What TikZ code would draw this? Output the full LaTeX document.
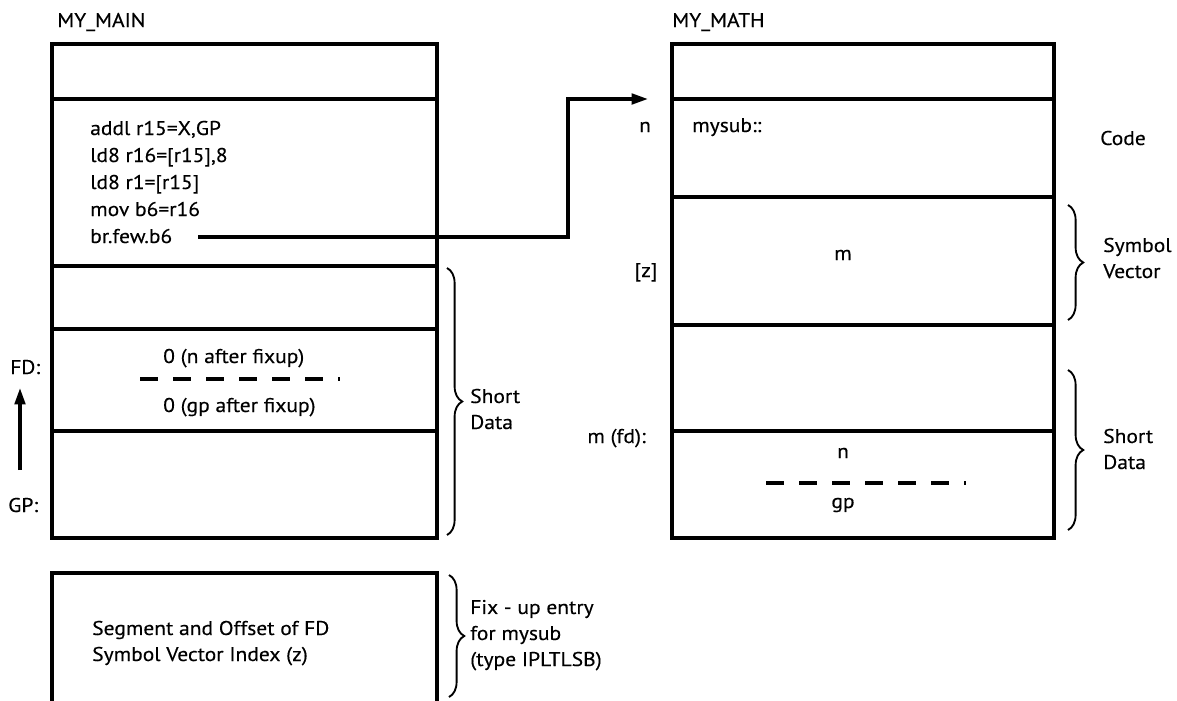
\documentclass[tikz,border=0pt]{standalone}
\usepackage{fontspec}
\setmainfont{PT Sans}[FakeStretch=1.08,FakeBold=0.3]
\usetikzlibrary{decorations.pathreplacing,arrows.meta}
\begin{document}
\begin{tikzpicture}[x=0.03cm,y=-0.03cm,
  box/.style={line width=2.8pt},
  txt/.style={font=\fontsize{17}{22.2}\selectfont, inner sep=0pt, text=black},
  lw/.style={txt, anchor=base west},
  lc/.style={txt, anchor=base},
  le/.style={txt, anchor=base east},
  ml/.style={txt, anchor=base west, align=left},
  brc/.style={decorate, decoration={brace,amplitude=13pt,aspect=0.5}, line width=1.6pt},
  dsh/.style={line width=2.8pt, dash pattern=on 15.3pt off 12.9pt},
  seg/.style={line width=2.8pt, line cap=rect},
  arr/.style={line width=2.8pt, -{Triangle[length=14pt,width=9pt]}},
  ]
\useasboundingbox (0,0) rectangle (1177,700);
\clip (0,0) rectangle (1177,700);

% MY_MAIN box
\draw[box] (52,44) rectangle (437,538);
\draw[box] (52,99) -- (437,99);
\draw[box] (52,266) -- (437,266);
\draw[box] (52,329) -- (437,329);
\draw[box] (52,431) -- (437,431);

% MY_MATH box
\draw[box] (672,44) rectangle (1054,538);
\draw[box] (672,99) -- (1054,99);
\draw[box] (672,197) -- (1054,197);
\draw[box] (672,325) -- (1054,325);
\draw[box] (672,431) -- (1054,431);

% fix-up box
\draw[box] (52,573) rectangle (437,720);

% titles
\node[lw] (tmain) at (57,27) {MY\_MAIN};
\node[lw] (tmath) at (672,27) {MY\_MATH};

% code lines
\node[lw] (c1) at (90,135) {addl r15=X,GP};
\node[lw] (c2) at (90,162) {ld8 r16=[r15],8};
\node[lw] (c3) at (90,189) {ld8 r1=[r15]};
\node[lw] (c4) at (90,216) {mov b6=r16};
\node[lw] (br) at (90,243) {br.few.b6};

% branch connector
\coordinate (bstart) at (198,237);
\coordinate (bcorner) at (568,237);
\coordinate (bend) at (568,99);
\coordinate (tgt) at (648,99);
\draw[line width=2.8pt] (bstart) -- (bcorner);
\draw[seg] (bcorner) -- (bend);
\draw[arr] (bend) -- (tgt);

% left short data
\node[lw] (nfix) at (163,363) {0 (n after fixup)};
\node[lw] (gpfix) at (163,412) {0 (gp after fixup)};
\coordinate (d1a) at (140,379);
\coordinate (d1b) at (340,379);
\draw[dsh] (d1a) -- (d1b);

\node[lw] (fd) at (10,374) {FD:};
\node[lw] (gp) at (8,512) {GP:};
\coordinate (fdtip) at (20,388);
\coordinate (gpbase) at (20,470);
\draw[arr] (gpbase) -- (fdtip);

\draw[brc] (447,268) -- (447,535);
\node[ml] (sd1) at (470,429) {Short\\Data};

% fix-up
\node[ml] (segoff) at (92,661) {Segment and Offset of FD\\Symbol Vector Index (z)};
\draw[brc] (449,575) -- (449,697);
\node[ml] (fix) at (470,666) {Fix - up entry\\for mysub\\(type IPLTLSB)};

% right side
\node[lc] (n1) at (645,132) {n};
\node[lw] (mysub) at (692,132) {mysub::};
\node[lw] (code) at (1100,145) {Code};
\node[lc] (m1) at (843,260) {m};
\node[lc] (z) at (646,277) {[z]};
\draw[brc] (1068,205) -- (1068,320);
\node[ml] (sv) at (1103,278) {Symbol\\Vector};

\node[le] (mfd) at (646,443) {m (fd):};
\node[lc] (n2) at (843,458) {n};
\node[lc] (gp2) at (843,508) {gp};
\coordinate (d2a) at (766,483);
\coordinate (d2b) at (966,483);
\draw[dsh] (d2a) -- (d2b);
\draw[brc] (1068,370) -- (1068,530);
\node[ml] (sd2) at (1103,469) {Short\\Data};
\end{tikzpicture}
\end{document}
